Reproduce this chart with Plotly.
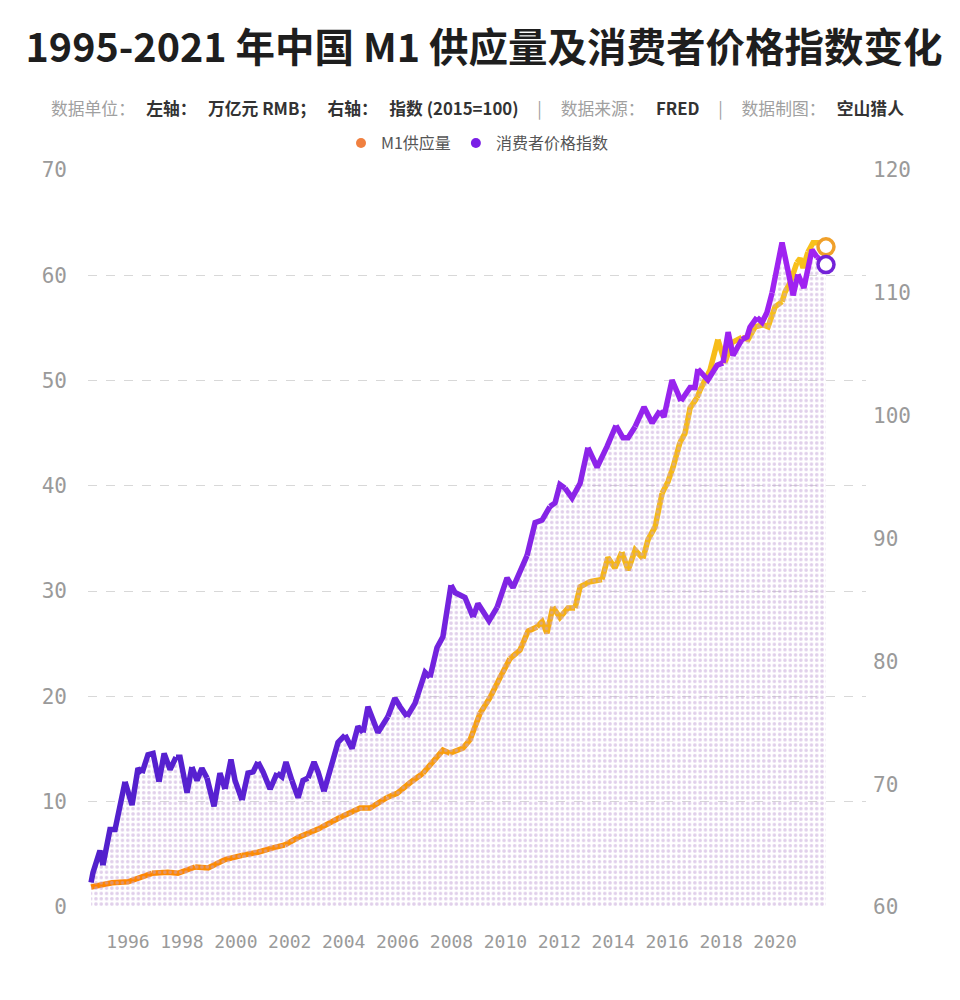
import plotly.graph_objects as go

# ---------------- data ----------------
cpi_year = [1994.63, 1994.70, 1994.96, 1995.07, 1995.33, 1995.52, 1995.89, 1996.15, 1996.37, 1996.52,
            1996.74, 1996.93, 1997.15, 1997.34, 1997.56, 1997.78, 1997.93, 1998.19, 1998.37, 1998.56,
            1998.74, 1998.93, 1999.19, 1999.41, 1999.60, 1999.82, 1999.97, 2000.23, 2000.45, 2000.64,
            2000.82, 2001.01, 2001.27, 2001.53, 2001.71, 2001.86, 2002.08, 2002.31, 2002.49, 2002.68,
            2002.90, 2003.05, 2003.27, 2003.49, 2003.79, 2004.05, 2004.31, 2004.53, 2004.72, 2004.90,
            2005.27, 2005.64, 2005.90, 2006.09, 2006.35, 2006.65, 2007.02, 2007.20, 2007.46, 2007.68,
            2007.98, 2008.13, 2008.50, 2008.80, 2008.98, 2009.39, 2009.69, 2010.06, 2010.28, 2010.80,
            2011.10, 2011.36, 2011.65, 2011.84, 2012.02, 2012.21, 2012.47, 2012.77, 2013.06, 2013.40,
            2013.77, 2014.10, 2014.36, 2014.55, 2014.81, 2015.14, 2015.44, 2015.73, 2015.88, 2016.18,
            2016.51, 2016.85, 2017.03, 2017.14, 2017.51, 2017.85, 2018.07, 2018.26, 2018.44, 2018.77,
            2018.96, 2019.07, 2019.33, 2019.52, 2019.70, 2019.89, 2020.26, 2020.67, 2020.85, 2021.07,
            2021.37, 2021.56, 2021.74, 2021.89]
cpi_value = [62.0, 62.8, 64.6, 63.4, 66.3, 66.3, 70.2, 68.3, 71.3, 70.9,
             72.4, 72.5, 70.2, 72.5, 71.2, 72.2, 72.2, 69.3, 71.4, 70.3,
             71.3, 70.5, 68.2, 70.9, 69.6, 72.0, 70.3, 68.7, 70.9, 71.0,
             71.8, 71.0, 69.6, 70.9, 70.6, 71.8, 70.3, 68.9, 70.3, 70.5,
             71.8, 71.0, 69.4, 71.2, 73.4, 74.0, 72.9, 74.7, 74.2, 76.3,
             74.2, 75.5, 77.0, 76.3, 75.5, 76.6, 79.1, 78.7, 81.1, 82.0,
             86.2, 85.6, 85.2, 83.6, 84.7, 83.3, 84.4, 86.8, 86.0, 88.6,
             91.3, 91.5, 92.6, 92.9, 94.4, 94.1, 93.3, 94.5, 97.4, 95.8,
             97.5, 99.2, 98.2, 98.2, 99.1, 100.7, 99.4, 100.4, 99.9, 102.9,
             101.2, 102.3, 102.3, 103.8, 102.9, 104.1, 104.3, 106.8, 104.9, 106.2,
             106.4, 107.2, 108.0, 107.6, 108.4, 110.0, 114.1, 109.8, 111.5, 110.4,
             113.5, 112.9, 112.5, 112.3]

m1_year = [1994.63, 1995.41, 1996.00, 1996.89, 1997.48, 1997.85, 1998.49, 1998.97, 1999.60, 2000.23,
           2000.82, 2001.34, 2001.82, 2002.31, 2003.05, 2003.86, 2004.61, 2004.98, 2005.61, 2005.98,
           2006.46, 2006.94, 2007.31, 2007.68, 2007.94, 2008.43, 2008.69, 2009.06, 2009.43, 2009.80,
           2010.17, 2010.54, 2010.84, 2011.17, 2011.36, 2011.54, 2011.76, 2012.02, 2012.32, 2012.58,
           2012.77, 2013.14, 2013.58, 2013.80, 2014.06, 2014.32, 2014.55, 2014.81, 2015.10, 2015.29,
           2015.55, 2015.81, 2016.03, 2016.22, 2016.47, 2016.66, 2016.85, 2017.11, 2017.22, 2017.59,
           2017.88, 2018.14, 2018.40, 2018.77, 2019.00, 2019.26, 2019.55, 2019.74, 2020.00, 2020.26,
           2020.37, 2020.56, 2020.81, 2020.93, 2021.04, 2021.22, 2021.41, 2021.59, 2021.89]
m1_value = [1.9, 2.3, 2.4, 3.2, 3.3, 3.2, 3.8, 3.7, 4.5, 4.9,
            5.2, 5.6, 5.9, 6.6, 7.4, 8.5, 9.4, 9.4, 10.4, 10.8,
            11.8, 12.7, 13.8, 14.9, 14.6, 15.1, 15.9, 18.4, 19.9, 21.8,
            23.6, 24.4, 26.2, 26.6, 27.1, 26.0, 28.5, 27.5, 28.4, 28.4,
            30.4, 30.9, 31.1, 33.2, 32.2, 33.7, 32.0, 33.9, 33.1, 34.9,
            36.1, 39.3, 40.4, 41.8, 44.1, 45.0, 47.4, 48.4, 49.1, 51.0,
            53.9, 51.7, 53.6, 54.1, 53.9, 55.1, 55.3, 55.1, 57.0, 57.5,
            58.4, 59.3, 61.2, 61.6, 60.7, 62.2, 63.1, 63.1, 62.7]

x_tick_years = list(range(1996, 2021, 2))
x_tick_labels = [str(y) for y in x_tick_years]
left_ticks = [0, 10, 20, 30, 40, 50, 60, 70]
right_ticks = [60, 70, 80, 90, 100, 110, 120]

m1_name = "M1供应量"
cpi_name = "消费者价格指数"

# ---------------- styling helpers ----------------
def hex_to_rgb(h):
    h = h.lstrip('#')
    return tuple(int(h[i:i + 2], 16) for i in (0, 2, 4))

def color_at(stops, t):
    if t <= stops[0][0]:
        return stops[0][1]
    for (t0, c0), (t1, c1) in zip(stops[:-1], stops[1:]):
        if t0 <= t <= t1:
            f = (t - t0) / (t1 - t0)
            a, b = hex_to_rgb(c0), hex_to_rgb(c1)
            r = [round(a[i] + (b[i] - a[i]) * f) for i in range(3)]
            return f"rgb({r[0]},{r[1]},{r[2]})"
    return stops[-1][1]

m1_stops = [(1995, "#ff8400"), (2005, "#fb9305"), (2010, "#f8a912"), (2014, "#f6b717"), (2022, "#f8c21c")]
cpi_stops = [(1995, "#5220cc"), (2004, "#5f22d6"), (2010, "#8024e4"), (2016, "#9824ee"), (2022, "#a222f2")]

fig = go.Figure()

# dotted area under the CPI line
fig.add_trace(go.Scatter(
    x=cpi_year, y=cpi_value, yaxis="y2", mode="lines", line=dict(width=0),
    fill="tozeroy", fillcolor="rgba(255,255,255,0)",
    fillpattern=dict(shape=".", fgcolor="#c2a0d6", bgcolor="rgba(255,255,255,0)", size=5.3, solidity=0.35),
    showlegend=False, hoverinfo="skip"))

def add_gradient_line(xs, ys, stops, axis, chunk=3):
    n = len(xs)
    i = 0
    while i < n - 1:
        j = min(i + chunk, n - 1)
        mid = (xs[i] + xs[j]) / 2
        fig.add_trace(go.Scatter(
            x=xs[i:j + 1], y=ys[i:j + 1], yaxis=axis, mode="lines",
            line=dict(color=color_at(stops, mid), width=5.5, shape="linear"),
            showlegend=False, hoverinfo="skip"))
        i = j

add_gradient_line(m1_year, m1_value, m1_stops, "y")
add_gradient_line(cpi_year, cpi_value, cpi_stops, "y2")

# end markers
fig.add_trace(go.Scatter(x=[m1_year[-1]], y=[m1_value[-1]], yaxis="y", mode="markers",
                         marker=dict(size=16, color="white", line=dict(color="#f0a02a", width=3.5)),
                         showlegend=False, hoverinfo="skip"))
fig.add_trace(go.Scatter(x=[cpi_year[-1]], y=[cpi_value[-1]], yaxis="y2", mode="markers",
                         marker=dict(size=16, color="white", line=dict(color="#7322d8", width=3.5)),
                         showlegend=False, hoverinfo="skip"))

# legend entries
fig.add_trace(go.Scatter(x=[None], y=[None], mode="markers", name=m1_name,
                         marker=dict(size=10, color="#f08040")))
fig.add_trace(go.Scatter(x=[None], y=[None], mode="markers", name=cpi_name,
                         marker=dict(size=10, color="#7a1fe6")))

G = "<span style='color:#a0a0a0'>"
sub = (G + "数据单位：</span>   <b>左轴：   万亿元 RMB；   右轴：   指数 (2015=100)</b>"
       + G + "     |     数据来源：</span>   <b>FRED</b>"
       + G + "     |     数据制图：</span>   <b>空山猎人</b>")

# the page body adds an 8px offset, so the figure is 952x992 and positions are shifted by -8px
fig.update_layout(
    width=952, height=992,
    margin=dict(l=80, r=94, t=162, b=93),
    paper_bgcolor="white", plot_bgcolor="white",
    font=dict(family="Noto Sans CJK SC, Noto Sans, sans-serif", color="#333"),
    title=dict(text="<b>1995-2021 年中国 M1 供应量及消费者价格指数变化</b>",
               x=0.5, xanchor="center", y=0.9597, yanchor="middle",
               font=dict(size=39.5, color="#1e1e1e", family="Noto Sans CJK SC")),
    legend=dict(orientation="h", x=0.5, xanchor="center", y=1.0366, yanchor="middle",
                font=dict(size=16, color="#555"), bgcolor="rgba(0,0,0,0)", traceorder="normal"),
    annotations=[dict(text=sub, x=0.5, xref="paper", xanchor="center", y=1.0841, yref="paper",
                      yanchor="middle", showarrow=False, font=dict(size=16.8, color="#333"))],
    xaxis=dict(range=[1994.516, 2023.374], tickvals=x_tick_years, ticktext=x_tick_labels,
               showgrid=False, zeroline=False, showline=False, ticks="",
               tickfont=dict(family="DejaVu Sans Mono", size=18, color="#9a9a9a"),
               ticklabelstandoff=22),
    yaxis=dict(range=[0, 70], tickvals=left_ticks, showgrid=True, gridcolor="#d8d8d8",
               griddash="dash", gridwidth=1, zeroline=False, showline=False, ticks="",
               tickfont=dict(family="DejaVu Sans Mono", size=21, color="#9a9a9a"),
               ticklabelstandoff=20),
    yaxis2=dict(range=[60, 120], tickvals=right_ticks, overlaying="y", side="right",
                showgrid=False, zeroline=False, showline=False, ticks="",
                tickfont=dict(family="DejaVu Sans Mono", size=21, color="#9a9a9a"),
                ticklabelstandoff=6),
    hovermode=False,
)

fig.write_html("out.html")
